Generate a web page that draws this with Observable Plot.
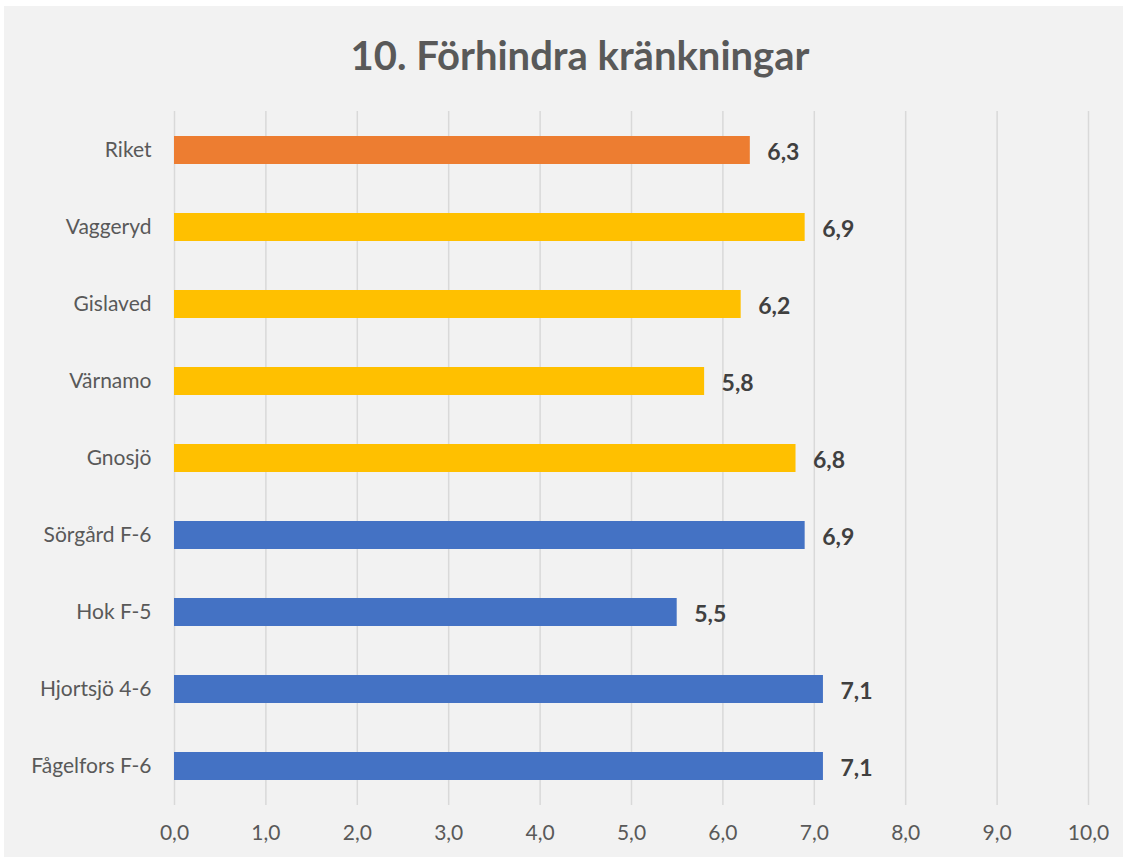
<!DOCTYPE html>
<html>
<head>
<meta charset="utf-8">
<script src="https://cdn.jsdelivr.net/npm/d3@7"></script>
<script src="https://cdn.jsdelivr.net/npm/@observablehq/plot@0.6"></script>
<style>
  html, body { margin: 0; padding: 0; background: #ffffff; }
  #chart { width: 1127px; height: 863px; background: #ffffff; font-family: Lato, "Open Sans", sans-serif; position: relative; overflow: hidden; }
  #panel { position: absolute; left: 4px; top: 6px; width: 1119px; height: 851px; background: #f2f2f2; }
  #title { position: absolute; left: 0; top: 0; width: 1160px; height: 100px; line-height: 110px; text-align: center; font-size: 40px; font-weight: bold; color: #595959; }
  #plot { position: absolute; left: 0; top: 100px; }
</style>
</head>
<body>
<div id="chart">
  <div id="panel"></div>
  <div id="title">10. Förhindra kränkningar</div>
  <div id="plot"></div>
</div>
<script>
const categories = ["Riket", "Vaggeryd", "Gislaved", "Värnamo", "Gnosjö", "Sörgård F-6", "Hok F-5", "Hjortsjö 4-6", "Fågelfors F-6"];
const values = [6.3, 6.9, 6.2, 5.8, 6.8, 6.9, 5.5, 7.1, 7.1];
const groups = ["Riket", "Kommun", "Kommun", "Kommun", "Kommun", "Skola", "Skola", "Skola", "Skola"];
const xTicks = [0, 1, 2, 3, 4, 5, 6, 7, 8, 9, 10];

const data = categories.map((c, i) => ({name: c, value: values[i], group: groups[i]}));
const fmt = v => v.toFixed(1).replace(".", ",");

const chart = Plot.plot({
  width: 1127,
  height: 763,
  marginLeft: 174,
  marginRight: 39,
  marginTop: 11,
  marginBottom: 58,
  style: {background: "transparent", fontFamily: "Lato, 'Open Sans', sans-serif", fontSize: "21px", color: "#595959"},
  x: {domain: [0, 10], ticks: xTicks, tickFormat: fmt, label: null, tickSize: 0, tickPadding: 20},
  y: {domain: categories, label: null, tickSize: 0, tickPadding: 23, paddingInner: 0.64, paddingOuter: 0.32},
  color: {domain: ["Riket", "Kommun", "Skola"], range: ["#ed7d31", "#ffc000", "#4472c4"]},
  marks: [
    Plot.gridX(xTicks, {stroke: "#d9d9d9", strokeOpacity: 1, strokeWidth: 1.5}),
    Plot.barX(data, {x: "value", y: "name", fill: "group"}),
    Plot.text(data, {x: "value", y: "name", text: d => fmt(d.value), textAnchor: "start", dx: 17, dy: 2, fontWeight: "bold", fontSize: 23, fill: "#404040"})
  ]
});
document.getElementById("plot").appendChild(chart);
</script>
</body>
</html>
